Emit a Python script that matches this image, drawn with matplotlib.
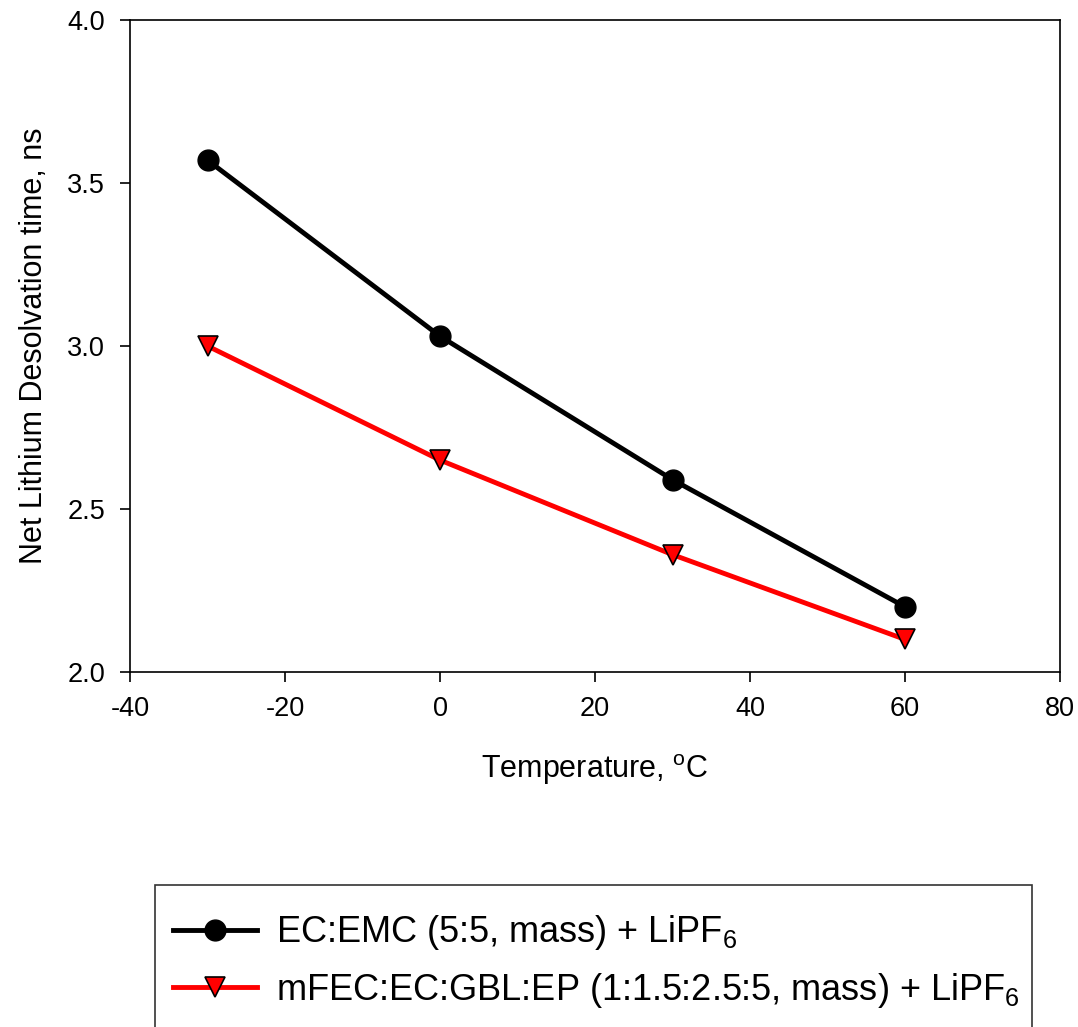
import matplotlib
matplotlib.use("Agg")
import matplotlib.pyplot as plt
from matplotlib.patches import Rectangle

plt.rcParams["font.family"] = ["Liberation Sans", "DejaVu Sans"]
plt.rcParams["mathtext.fontset"] = "custom"
plt.rcParams["mathtext.rm"] = "Liberation Sans"
plt.rcParams["mathtext.it"] = "Liberation Sans:italic"
plt.rcParams["axes.unicode_minus"] = False

# data
temps = [-30, 0, 30, 60]
ec_emc = [3.57, 3.03, 2.59, 2.20]
mfec = [3.00, 2.65, 2.36, 2.10]

labels = [
    r"EC:EMC (5:5, mass) + LiPF$_6$",
    r"mFEC:EC:GBL:EP (1:1.5:2.5:5, mass) + LiPF$_6$",
]

W, H = 1078, 1027
fig = plt.figure(figsize=(W / 100, H / 100), dpi=100)
ax = fig.add_axes([130 / W, 1 - 672 / H, 930 / W, 652 / H])

l1, = ax.plot(temps, ec_emc, color="black", lw=3.5, marker="o", ms=15,
              mfc="black", mec="black", zorder=3)
l2, = ax.plot(temps, mfec, color="red", lw=3.5, marker="v", ms=15,
              mfc="red", mec="black", mew=1.2, zorder=3)

ax.set_xlim(-40, 80)
ax.set_ylim(2.0, 4.0)
ax.set_xticks([-40, -20, 0, 20, 40, 60, 80])
ax.set_yticks([2.0, 2.5, 3.0, 3.5, 4.0])
ax.set_yticklabels(["2.0", "2.5", "3.0", "3.5", "4.0"])
ax.tick_params(direction="out", length=7, width=1.2, labelsize=19.5)
ax.tick_params(axis="x", pad=10)
ax.tick_params(axis="y", pad=11)
for s in ax.spines.values():
    s.set_linewidth(1.2)

ax.set_xlabel(r"Temperature, $^{\mathrm{o}}$C", fontsize=22, labelpad=22)
ax.set_ylabel("Net Lithium Desolvation time, ns", fontsize=22, labelpad=13)

# legend box, runs off the bottom of the figure like the reference
fig.patches.append(Rectangle((155 / W, -0.01), 877 / W, 1 - 885 / H + 0.01,
                             transform=fig.transFigure, fill=False,
                             edgecolor="#333333", lw=1.2))
fig.legend([l1, l2], labels, loc="upper left",
           bbox_to_anchor=(159 / W, 1 - 899 / H), frameon=False,
           fontsize=26, handlelength=2.3, handletextpad=0.55,
           labelspacing=0.5, borderaxespad=0)

fig.savefig("out.png", dpi=100)
